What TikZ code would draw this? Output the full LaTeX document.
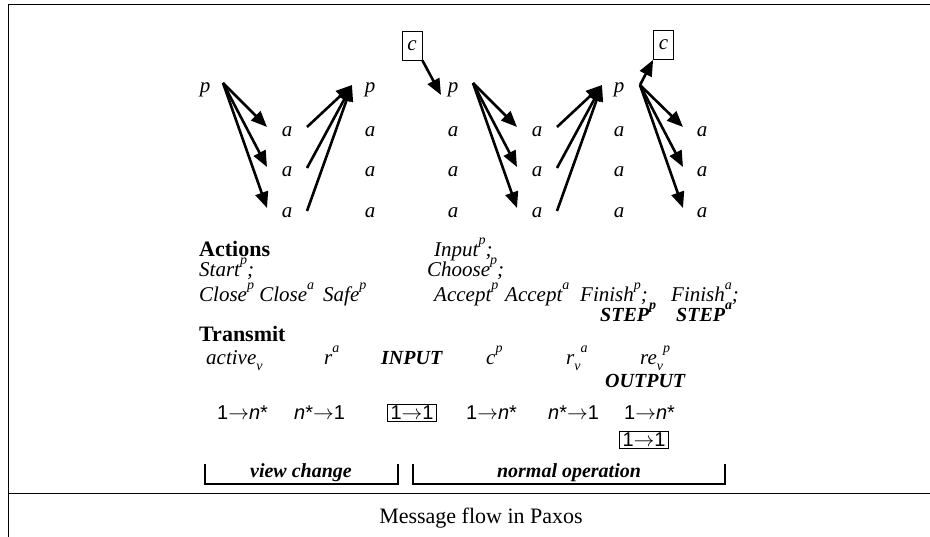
\documentclass[tikz,border=0pt]{standalone}
\usepackage{fontspec}
\setmainfont{Liberation Serif}
\setsansfont{Liberation Sans}
\usetikzlibrary{arrows.meta}
\newcommand{\myup}[1]{\raisebox{0.6em}{\fontsize{14}{14}\selectfont #1}}
\newcommand{\mydn}[1]{\raisebox{-0.28em}{\fontsize{14}{14}\selectfont #1}}
\newcommand{\flowarr}{$\rightarrow$}
\begin{document}
\begin{tikzpicture}[x=1pt,y=-1pt,
  letter/.style={font=\fontsize{21}{21}\selectfont\itshape, inner sep=0pt,
    minimum width=40pt, minimum height=10pt, text height=10pt, text depth=0pt},
  cbox/.style={draw, line width=0.8pt, font=\fontsize{21}{21}\selectfont\itshape,
    inner sep=0pt, minimum width=20pt, minimum height=29pt},
  msg/.style={line width=2.6pt, -{Triangle[length=16pt,width=13pt]}},
  txt/.style={font=\fontsize{21}{22}\selectfont\itshape, inner sep=0pt, anchor=base west},
  head/.style={font=\fontsize{22}{22}\selectfont\bfseries, inner sep=0pt, anchor=base west},
  bi/.style={font=\fontsize{20}{20}\selectfont\bfseries\itshape, inner sep=0pt, anchor=base west},
  flow/.style={font=\fontsize{20}{20}\selectfont\sffamily, inner sep=0pt, anchor=base west},
  fbox/.style={draw, line width=1pt, font=\fontsize{20}{20}\selectfont\sffamily,
    inner xsep=3pt, inner ysep=1.5pt},
  brk/.style={line width=2.5pt},
  frame/.style={line width=0.9pt}
]
\useasboundingbox (0,0) rectangle (930,537);
% frame
\draw[frame] (930,4) -- (8,4) -- (8,537);
\draw[frame] (8,493) -- (930,493);

% letters
\node[letter] (p1) at (205,88) {p};
\foreach \c/\x in {2/287,3/370,4/453,5/537,6/619,7/702}{
  \node[letter] (a\c1) at (\x,132) {a};
  \node[letter] (a\c2) at (\x,172) {a};
  \node[letter] (a\c3) at (\x,213) {a};
}
\node[letter] (p3) at (370,88) {p};
\node[letter] (p4) at (453,88) {p};
\node[letter] (p6) at (619,88) {p};
\node[cbox] (c1) at (412,45.5) {c};
\node[cbox] (c2) at (663.5,45) {c};

% arrows set 1
\foreach \r in {1,2,3}{
  \draw[msg] ([shift={(18,-5)}]p1.center) -- ([shift={(-20,-5)}]a2\r.center);
}
% set 2
\draw[msg] ([shift={(20,-5)}]a21.center) -- ([shift={(-18,-3)}]p3.center);
\draw[msg] ([shift={(20,-4)}]a22.center) -- ([shift={(-18,-3)}]p3.center);
\draw[msg] ([shift={(20,-2)}]a23.center) -- ([shift={(-18,-3)}]p3.center);
% c -> p4
\draw[msg] (c1.south east) -- ([shift={(-12,7)}]p4.center);
% set 3
\foreach \r in {1,2,3}{
  \draw[msg] ([shift={(20,-5)}]p4.center) -- ([shift={(-20,-5)}]a5\r.center);
}
% set 4
\draw[msg] ([shift={(20,-5)}]a51.center) -- ([shift={(-17,-3)}]p6.center);
\draw[msg] ([shift={(20,-4)}]a52.center) -- ([shift={(-17,-3)}]p6.center);
\draw[msg] ([shift={(20,-2)}]a53.center) -- ([shift={(-17,-3)}]p6.center);
% set 5
\draw[msg] ([shift={(21,-3)}]p6.center) -- (c2.south west);
\foreach \r in {1,2,3}{
  \draw[msg] ([shift={(21,-3)}]p6.center) -- ([shift={(-19,-5)}]a7\r.center);
}

% Actions block
\node[head] (act) at (199,257) {Actions};
\node[txt] (start) at (199,277) {Start\myup{p};};
\node[txt] (close) at (199,302) {Close\myup{p} Close\myup{a}};
\node[txt] (safe) at (323,302) {Safe\myup{p}};
\node[txt] (input) at (434,257) {Input\myup{p};};
\node[txt] (choose) at (427,277) {Choose\myup{p};};
\node[txt] (accp) at (434,302) {Accept\myup{p}};
\node[txt] (acca) at (505,302) {Accept\myup{a}};
\node[txt] (finp) at (580,302) {Finish\myup{p};};
\node[txt] (fina) at (671,302) {Finish\myup{a};};
\node[bi] (stepp) at (600,322) {STEP\myup{p}};
\node[bi] (stepa) at (676,322) {STEP\myup{a}};

% Transmit block
\node[head] (trans) at (199,342) {Transmit};
\node[txt] (active) at (206,365) {active\mydn{v}};
\node[txt] (ra) at (324,365) {r\myup{a}};
\node[bi] (inp) at (381,365) {INPUT};
\node[txt] (cp) at (486,365) {c\myup{p}};
\node[txt] (rva) at (566,365) {r\mydn{v}\myup{a}};
\node[txt] (revp) at (640,365) {re\mydn{v}\myup{p}};
\node[bi] (outp) at (605,388) {OUTPUT};

% flow row
\node[flow] (f1) at (217,420) {1\flowarr\textit{n}*};
\node[flow] (f2) at (294,420) {\textit{n}*\flowarr 1};
\node[fbox, anchor=base] (f3) at (412,420) {1\flowarr 1};
\node[flow] (f4) at (466,420) {1\flowarr\textit{n}*};
\node[flow] (f5) at (548,420) {\textit{n}*\flowarr 1};
\node[flow] (f6) at (624,420) {1\flowarr\textit{n}*};
\node[fbox, anchor=base] (f7) at (644,447) {1\flowarr 1};

% brackets
\coordinate (vcL) at (205,464);
\coordinate (vcR) at (398,464);
\coordinate (noL) at (413,464);
\coordinate (noR) at (725,464);
\draw[brk] (vcL) -- ++(0,20) -| (vcR);
\draw[brk] (noL) -- ++(0,20) -| (noR);
\node[bi, anchor=base] (vc) at (301,478) {view change};
\node[bi, anchor=base] (no) at (569,478) {normal operation};

% caption
\node[font=\fontsize{22}{22}\selectfont, inner sep=0pt, anchor=base] (cap) at (481,523) {Message flow in Paxos};
\end{tikzpicture}
\end{document}
